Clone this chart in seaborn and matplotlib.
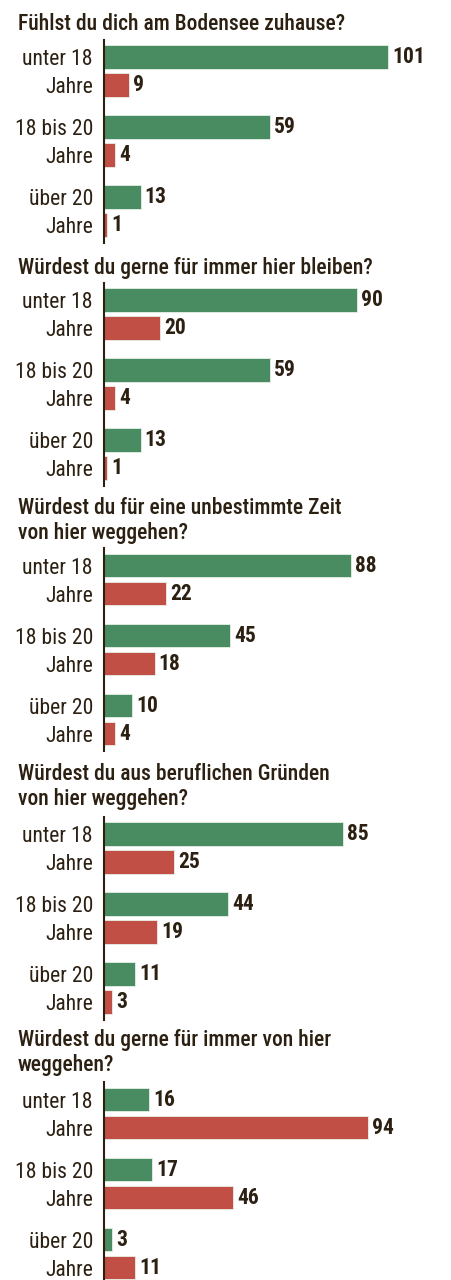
import matplotlib
matplotlib.use("Agg")
import matplotlib.pyplot as plt
import seaborn as sns
import pandas as pd

# data
questions = [
    "Fühlst du dich am Bodensee zuhause?",
    "Würdest du gerne für immer hier bleiben?",
    "Würdest du für eine unbestimmte Zeit\nvon hier weggehen?",
    "Würdest du aus beruflichen Gründen\nvon hier weggehen?",
    "Würdest du gerne für immer von hier\nweggehen?",
]
age_groups = ["unter 18", "18 bis 20", "über 20"]
ja = [[101, 59, 13], [90, 59, 13], [88, 45, 10], [85, 44, 11], [16, 17, 3]]
nein = [[9, 4, 1], [20, 4, 1], [22, 18, 4], [25, 19, 3], [94, 46, 11]]

GREEN = "#4a8c62"
RED = "#c24f45"
TXT = "#2b2012"

W, H = 452, 1280
sns.set_style("white")
plt.rcParams["font.family"] = ["Roboto Condensed", "DejaVu Sans"]

fig = plt.figure(figsize=(W / 100, H / 100), dpi=100)

# layout in pixels: title centre y, axes top
title_y = [24, 268, 520.5, 786.5, 1052.5]
ax_top = [39.5, 282.5, 548, 816.5, 1082]
ax_left = 104
px_per_unit = 2.81

for i, q in enumerate(questions):
    fig.text(18 / W, 1 - title_y[i] / H, q, ha="left", va="center",
             fontsize=15.5, fontweight=500, color=TXT, linespacing=1.12)

    df = pd.DataFrame({
        "Alter": age_groups * 2,
        "Antwort": ["Ja"] * 3 + ["Nein"] * 3,
        "Anzahl": ja[i] + nein[i],
    })
    height = 203
    ax = fig.add_axes([ax_left / W, 1 - (ax_top[i] + height) / H,
                       (W - ax_left) / W, height / H])
    sns.barplot(data=df, y="Alter", x="Anzahl", hue="Antwort",
                palette={"Ja": GREEN, "Nein": RED}, orient="h",
                gap=0.15, width=0.8, ax=ax, legend=False,
                edgecolor="#e8eee8", linewidth=0.6, saturation=1)
    for c in ax.containers:
        ax.bar_label(c, padding=3, fontsize=15.5, fontweight="bold", color=TXT)

    ax.set_xlim(0, (W - ax_left) / px_per_unit)
    ax.set_ylim(2.45, -0.45)
    ticks, labels = [], []
    for k, g in enumerate(age_groups):
        ticks += [k - 0.2, k + 0.2]
        labels += [g, "Jahre"]
    ax.set_yticks(ticks, labels)
    ax.tick_params(axis="y", length=0, pad=8, labelsize=15.6, labelcolor=TXT)
    ax.set_xticks([])
    ax.set_xlabel("")
    ax.set_ylabel("")
    for s in ["top", "right", "bottom"]:
        ax.spines[s].set_visible(False)
    ax.spines["left"].set_color(TXT)
    ax.spines["left"].set_linewidth(1.5)
    ax.patch.set_alpha(0)

fig.savefig("out.png", dpi=100)
